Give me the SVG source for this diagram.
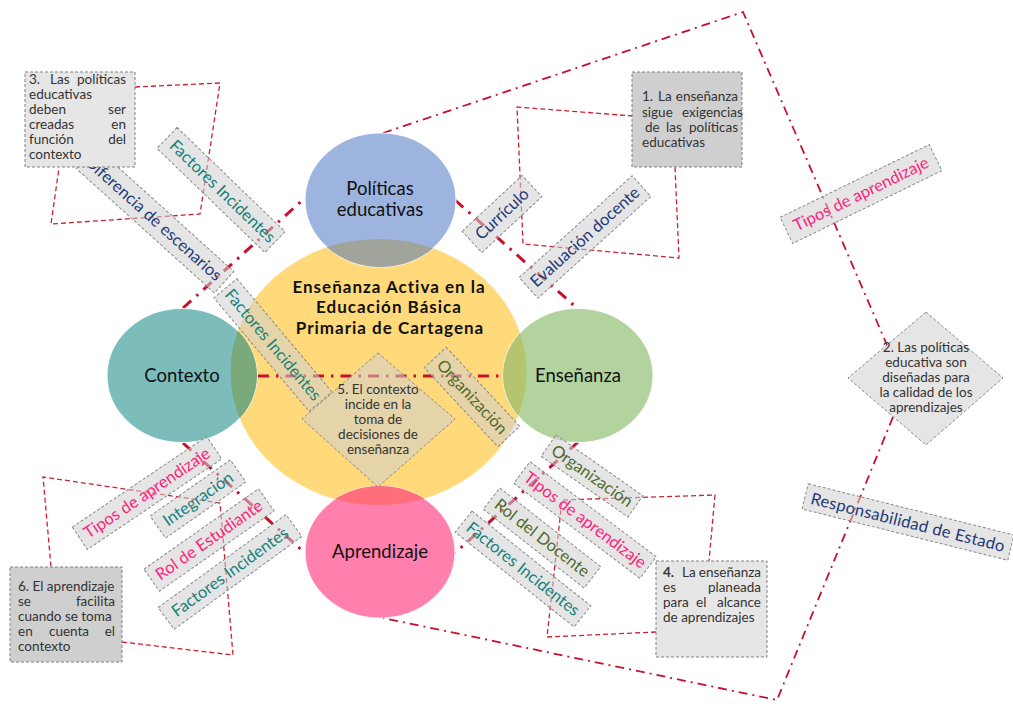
<svg xmlns="http://www.w3.org/2000/svg" width="1013" height="707" viewBox="0 0 1013 707">
<defs>
<style>
.lbl rect, .lbl polygon {fill:#d0d0d0; fill-opacity:0.55; stroke:#8a8a8a; stroke-width:1; stroke-dasharray:3 2;}
.lbl text {font-family:Lato, "Liberation Sans", sans-serif; font-size:16.5px; text-anchor:middle;}
.teal{fill:#17807a}
.navy{fill:#1f3a78}
.pink{fill:#ff1f7d}
.olive{fill:#4f6a2a}
.dd{fill:none; stroke:#c8102e; stroke-width:3; stroke-dasharray:11 7 2.5 7;}
.big{fill:none; stroke:#c8102e; stroke-width:1.8; stroke-dasharray:9 5 2 5;}
.dash{fill:none; stroke:#d0202e; stroke-width:1.3; stroke-dasharray:5 3;}
.note{stroke:#808080; stroke-width:1; stroke-dasharray:3 2;}
.nt{font-family:Lato, "Liberation Sans", sans-serif; font-size:13.5px; fill:#333;}
.lbl text.dt{font-family:Lato, "Liberation Sans", sans-serif; font-size:13.5px; fill:#333; text-anchor:middle;}
.ct{font-family:Lato, "Liberation Sans", sans-serif; font-size:18.5px; fill:#111; text-anchor:middle;}
.tt{font-family:Lato, "Liberation Sans", sans-serif; font-size:17px; letter-spacing:1px; font-weight:bold; fill:#111; text-anchor:middle;}
.circ{stroke:#ffffff; stroke-width:1.2; stroke-opacity:0.8;}
</style>
<clipPath id="cy"><ellipse cx="378.5" cy="372" rx="148" ry="133"/></clipPath>
</defs>
<rect width="1013" height="707" fill="#ffffff"/>

<g id="connectors">
<polyline class="big" points="383,133 743,12 887,345"/>
<polyline class="big" points="893,417 777,700 383,618"/>
<line class="dd" x1="183" y1="308" x2="306" y2="197"/>
<line class="dd" x1="455" y1="200" x2="578" y2="309"/>
<line class="dd" x1="183" y1="443" x2="305" y2="553"/>
<line class="dd" x1="578" y1="442" x2="455" y2="553"/>
<polyline class="dash" points="135,87 220,83 200,214 51,224 59,168"/>
<polyline class="dash" points="633,116 517,107 523,244 679,258 675,167"/>
<polyline class="dash" points="122,642 233,655 220,503 43,477 51,567"/>
<polyline class="dash" points="656,632 547,637 562,500 715,495 709,561"/>
</g>

<g id="nucleo">
<ellipse cx="378.5" cy="372" rx="148" ry="133" fill="#ffd97a"/>
</g>
<g id="politicas">
<ellipse class="circ" cx="380.5" cy="200" rx="75.5" ry="67" fill="#9db4df"/>
<ellipse cx="380.5" cy="200" rx="75.5" ry="67" fill="#a0a49b" clip-path="url(#cy)"/>
<text class="ct" x="380" y="195">Políticas</text>
<text class="ct" x="380" y="216">educativas</text>
</g>
<g id="contexto">
<ellipse class="circ" cx="182" cy="375.5" rx="75" ry="67" fill="#7cbdbb"/>
<ellipse cx="182" cy="375.5" rx="75" ry="67" fill="#7aa97c" clip-path="url(#cy)"/>
<text class="ct" x="182" y="382">Contexto</text>
</g>
<g id="ensenanza">
<ellipse class="circ" cx="578" cy="375.5" rx="75" ry="67" fill="#b2d39e"/>
<ellipse cx="578" cy="375.5" rx="75" ry="67" fill="#b5c46e" clip-path="url(#cy)"/>
<text class="ct" x="578" y="382">Enseñanza</text>
</g>
<g id="aprendizaje">
<ellipse class="circ" cx="380" cy="552" rx="75" ry="66" fill="#ff80ad"/>
<ellipse cx="380" cy="552" rx="75" ry="66" fill="#ff6e7a" clip-path="url(#cy)"/>
<text class="ct" x="380" y="558">Aprendizaje</text>
</g>
<g id="titulo">
<text class="tt" x="389" y="292.5">Enseñanza Activa en la</text>
<text class="tt" x="389" y="313">Educación Básica</text>
<text class="tt" x="390" y="333.5">Primaria de Cartagena</text>
</g>

<line class="dd" x1="258" y1="376" x2="502" y2="376"/>

<g id="lbl-factores1" class="lbl" transform="translate(221,190) rotate(44)">
<rect x="-75" y="-14.5" width="150" height="29"/>
<text class="teal" x="2" y="5.5">Factores Incidentes</text>
</g>
<g id="lbl-diferencia" class="lbl" transform="translate(155,220) rotate(42)">
<rect x="-93" y="-14.5" width="186" height="29"/>
<text class="navy" x="-2" y="5.5">Diferencia de escenarios</text>
</g>
<g id="lbl-factores2" class="lbl" transform="translate(273,345) rotate(50)">
<rect x="-74" y="-15" width="148" height="30"/>
<text class="teal" x="0" y="5.5">Factores Incidentes</text>
</g>
<g id="lbl-curriculo" class="lbl" transform="translate(502,214) rotate(-43)">
<rect x="-41" y="-14.5" width="82" height="29"/>
<text class="navy" x="0" y="5.5">Currículo</text>
</g>
<g id="lbl-evaluacion" class="lbl" transform="translate(585,237) rotate(-42)">
<rect x="-76" y="-14" width="152" height="28"/>
<text class="navy" x="0" y="5.5">Evaluación docente</text>
</g>
<g id="lbl-organizacion1" class="lbl" transform="translate(472,397) rotate(47)">
<rect x="-54" y="-15" width="108" height="30"/>
<text class="olive" x="0" y="5.5">Organización</text>
</g>
<g id="nota5" class="lbl">
<polygon points="378,353 455,419 378,487 302,419"/>
<text class="dt" x="378" y="394">5. El contexto</text>
<text class="dt" x="378" y="409">incide en la</text>
<text class="dt" x="378" y="424">toma de</text>
<text class="dt" x="378" y="439">decisiones de</text>
<text class="dt" x="378" y="454">enseñanza</text>
</g>

<g id="lbl-organizacion2" class="lbl" transform="translate(592,476) rotate(35)">
<rect x="-53" y="-13" width="106" height="26"/>
<text class="olive" x="0" y="5.5">Organización</text>
</g>
<g id="lbl-tipos2" class="lbl" transform="translate(585,520) rotate(37)">
<rect x="-79" y="-13.5" width="158" height="27"/>
<text class="pink" x="0" y="5.5">Tipos de aprendizaje</text>
</g>
<g id="lbl-roldocente" class="lbl" transform="translate(542,538) rotate(38)">
<rect x="-64" y="-13.5" width="128" height="27"/>
<text class="olive" x="0" y="5.5">Rol del Docente</text>
</g>
<g id="lbl-factores4" class="lbl" transform="translate(523,569) rotate(38.6)">
<rect x="-76" y="-13.5" width="152" height="27"/>
<text class="teal" x="0" y="5.5">Factores Incidentes</text>
</g>

<g id="lbl-tipos1" class="lbl" transform="translate(147,493) rotate(-34)">
<rect x="-81" y="-13.5" width="162" height="27"/>
<text class="pink" x="0" y="5.5">Tipos de aprendizaje</text>
</g>
<g id="lbl-integracion" class="lbl" transform="translate(198,499) rotate(-35)">
<rect x="-49" y="-13.5" width="98" height="27"/>
<text class="teal" x="0" y="5.5">Integración</text>
</g>
<g id="lbl-rolestudiante" class="lbl" transform="translate(209,540) rotate(-35)">
<rect x="-70" y="-13.5" width="140" height="27"/>
<text class="pink" x="0" y="5.5">Rol de Estudiante</text>
</g>
<g id="lbl-factores3" class="lbl" transform="translate(230,572) rotate(-36)">
<rect x="-79" y="-13.5" width="158" height="27"/>
<text class="teal" x="0" y="5.5">Factores Incidentes</text>
</g>

<g id="lbl-tipos3" class="lbl" transform="translate(861,194) rotate(-26)">
<rect x="-83" y="-14.5" width="166" height="29"/>
<text class="pink" x="0" y="5.5">Tipos de aprendizaje</text>
</g>
<g id="lbl-responsabilidad" class="lbl" transform="translate(908,522) rotate(14)">
<rect x="-106" y="-13" width="212" height="26"/>
<text class="navy" style="letter-spacing:0.3px" x="0" y="6">Responsabilidad de Estado</text>
</g>

<g id="nota2" class="lbl">
<polygon points="926,312 1003,378 926,445 848,378"/>
<text class="dt" x="926" y="352">2. Las políticas</text>
<text class="dt" x="926" y="367">educativa son</text>
<text class="dt" x="926" y="382">diseñadas para</text>
<text class="dt" x="926" y="397">la calidad de los</text>
<text class="dt" x="926" y="412">aprendizajes</text>
</g>

<g id="nota3">
<rect class="note" x="25" y="72" width="110" height="95" fill="#e6e6e6"/>
<text class="nt" x="29" y="84">3.</text>
<text class="nt" x="50" y="84">Las</text>
<text class="nt" x="126" y="84" text-anchor="end">políticas</text>
<text class="nt" x="29" y="99">educativas</text>
<text class="nt" x="29" y="114">deben</text>
<text class="nt" x="126" y="114" text-anchor="end">ser</text>
<text class="nt" x="29" y="129">creadas</text>
<text class="nt" x="126" y="129" text-anchor="end">en</text>
<text class="nt" x="29" y="144">función</text>
<text class="nt" x="126" y="144" text-anchor="end">del</text>
<text class="nt" x="29" y="159">contexto</text>
</g>

<g id="nota1">
<rect class="note" x="632" y="72" width="110" height="95" fill="#cfcfcf"/>
<text class="nt" x="642" y="101">1.</text>
<text class="nt" x="658" y="101">La</text>
<text class="nt" x="738" y="101" text-anchor="end">enseñanza</text>
<text class="nt" x="642" y="117">sigue</text>
<text class="nt" x="682" y="117">exigencias</text>
<text class="nt" x="645" y="132">de</text>
<text class="nt" x="666" y="132">las</text>
<text class="nt" x="738" y="132" text-anchor="end">políticas</text>
<text class="nt" x="642" y="147">educativas</text>
</g>

<g id="nota6">
<rect class="note" x="10" y="567" width="112" height="95" fill="#cfcfcf"/>
<text class="nt" x="18" y="591">6. El aprendizaje</text>
<text class="nt" x="18" y="606">se</text>
<text class="nt" x="115" y="606" text-anchor="end">facilita</text>
<text class="nt" x="18" y="621">cuando se toma</text>
<text class="nt" x="18" y="636">en</text>
<text class="nt" x="69" y="636" text-anchor="middle">cuenta</text>
<text class="nt" x="115" y="636" text-anchor="end">el</text>
<text class="nt" x="18" y="651">contexto</text>
</g>

<g id="nota4">
<rect class="note" x="656" y="561" width="111" height="96" fill="#e6e6e6"/>
<text class="nt" x="663" y="577" style="font-weight:bold">4.</text>
<text class="nt" x="682" y="577">La</text>
<text class="nt" x="761" y="577" text-anchor="end">enseñanza</text>
<text class="nt" x="663" y="592">es</text>
<text class="nt" x="761" y="592" text-anchor="end">planeada</text>
<text class="nt" x="663" y="607">para</text>
<text class="nt" x="696" y="607">el</text>
<text class="nt" x="761" y="607" text-anchor="end">alcance</text>
<text class="nt" x="663" y="622">de aprendizajes</text>
</g>
</svg>
